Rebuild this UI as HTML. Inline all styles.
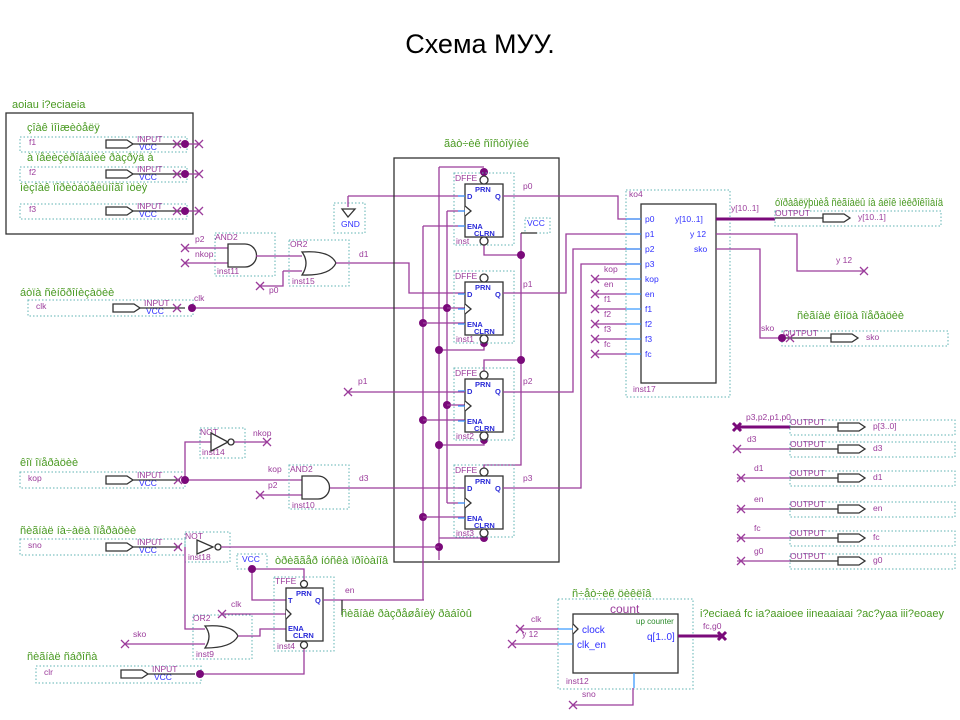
<!DOCTYPE html>
<html><head><meta charset="utf-8"><style>
html,body{margin:0;padding:0;background:#fff;}
svg{display:block;font-family:"Liberation Sans",sans-serif;}
.w{stroke:#9b3c9b;stroke-width:1.3;fill:none}
.b{stroke:#3c9cff;stroke-width:1.3;fill:none}
.k{stroke:#333;stroke-width:1.3;fill:#fff}
.dt{stroke:#5fb3b3;stroke-width:1;stroke-dasharray:1.5,2;fill:none}
.g{fill:#4a9a22;font-size:11px}
.m{fill:#9b3c9b;font-size:8.5px}
.bl{fill:#3030ff;font-size:8.5px}
.pb{fill:#2b2bd8;font-size:7.5px;font-weight:bold}
</style></head><body>
<svg width="960" height="720" viewBox="0 0 960 720">
<defs>
<g id="x"><path d="M-4,-4L4,4M-4,4L4,-4" stroke="#9b3c9b" stroke-width="1.3"/></g>
<circle id="d" r="4" fill="#7a0a7a"/>
<path id="pin" d="M0,-4H21L27,0L21,4H0Z" class="k"/>
<g id="in"><use href="#pin"/><text x="31" y="-2" class="m">INPUT</text><text x="33" y="6" class="bl">VCC</text></g>
<g id="out"><text x="0" y="-2" class="m">OUTPUT</text><use href="#pin" x="48"/></g>
</defs>
<text x="480" y="53" text-anchor="middle" font-size="27" fill="#000">Схема МУУ.</text>

<!-- top-left box -->
<text x="12" y="108" class="g">aoiau i?eciaeia</text>
<rect x="6" y="113" width="187" height="121" fill="none" stroke="#333" stroke-width="1.3"/>
<text x="27" y="131" class="g">çîàê ìîìæèòåëÿ</text>
<text x="27" y="161" class="g">à ïåèèçèðîâàíèé ðàçðÿä à</text>
<text x="20" y="191" class="g">ìèçîàê ïîðèòàòåëüíîãî ìöèÿ</text>
<rect x="20" y="137" width="167" height="15" class="dt"/>
<rect x="20" y="167" width="167" height="15" class="dt"/>
<rect x="20" y="204" width="167" height="15" class="dt"/>
<text x="29" y="145" class="m">f1</text><text x="29" y="175" class="m">f2</text><text x="29" y="212" class="m">f3</text>
<use href="#in" x="106" y="144"/><use href="#in" x="106" y="174"/><use href="#in" x="106" y="211"/>
<path d="M133,144H185M133,174H185M133,211H185" stroke="#333" stroke-width="1.3"/>
<path d="M185,144H199M185,174H199M185,211H199" class="w"/>
<use href="#d" x="185" y="144"/><use href="#d" x="185" y="174"/><use href="#d" x="185" y="211"/>
<use href="#x" x="177" y="144"/><use href="#x" x="199" y="144"/><use href="#x" x="177" y="174"/><use href="#x" x="199" y="174"/><use href="#x" x="177" y="211"/><use href="#x" x="199" y="211"/>

<!-- clk -->
<text x="20" y="296" class="g">áòïà ñèíõðîíèçàöèè</text>
<rect x="28" y="300" width="165" height="16" class="dt"/>
<text x="36" y="309" class="m">clk</text>
<use href="#in" x="113" y="308"/>
<path d="M140,308H185" stroke="#333" stroke-width="1.3"/>
<use href="#x" x="177" y="308"/>
<text x="194" y="301" class="m">clk</text>
<path d="M192,308H447" class="w"/><use href="#d" x="192" y="308"/>

<!-- AND2 inst11 / OR2 inst15 -->
<rect x="215" y="233" width="60" height="43" class="dt"/>
<text x="215" y="240" class="m">AND2</text><text x="217" y="274" class="m">inst11</text>
<path d="M185,248H228M185,263H228" class="w"/>
<use href="#x" x="185" y="248"/><use href="#x" x="185" y="263"/>
<text x="195" y="242" class="m">p2</text><text x="195" y="257" class="m">nkop</text>
<path d="M228,244H245A11.5,11.5 0 0 1 245,267H228Z" class="k"/>
<rect x="289" y="240" width="60" height="46" class="dt"/>
<text x="290" y="247" class="m">OR2</text><text x="292" y="284" class="m">inst15</text>
<path d="M256,256H302M283,271H302M283,271V286H260" class="w"/>
<use href="#x" x="260" y="286"/><text x="269" y="293" class="m">p0</text>
<path d="M302,252Q330,250 336,263Q330,276 302,275Q310,263 302,252Z" class="k"/>
<text x="359" y="257" class="m">d1</text>
<path d="M336,263H409V293H465" class="w"/>

<!-- GND -->
<rect x="334" y="203" width="31" height="30" class="dt"/>
<path d="M348,196V207M348,196H394" class="w"/>
<path d="M342,209H355L348,217Z" class="k"/>
<text x="341" y="227" class="bl">GND</text>
<path d="M394,196H465" class="w"/>

<!-- shift register big box -->
<text x="444" y="147" class="g">ãàò÷èê ñîñòîÿíèé</text>
<rect x="394" y="158" width="165" height="404" fill="none" stroke="#333" stroke-width="1.3"/>
<path d="M439,167V560M423,226V600M447,211V503M521,233V330M439,167H484" class="w"/>
<rect x="525" y="218" width="25" height="15" class="dt"/><text x="527" y="226" class="bl">VCC</text>
<path d="M521,233H537" stroke="#333" stroke-width="1.3"/>
<path d="M484,244V255H521M484,338V350H439M521,360H484V373M484,435V445H439M521,330V360M521,360V465H484V473M484,532V538H439" class="w"/>
<use href="#d" x="484" y="172"/><use href="#d" x="521" y="255"/><use href="#d" x="484" y="343"/><use href="#d" x="439" y="350"/>
<use href="#d" x="521" y="360"/><use href="#d" x="484" y="440"/><use href="#d" x="439" y="445"/><use href="#d" x="484" y="538"/><use href="#d" x="439" y="547"/>
<use href="#d" x="447" y="308"/><use href="#d" x="447" y="405"/><use href="#d" x="423" y="323"/><use href="#d" x="423" y="420"/><use href="#d" x="423" y="517"/>
<path d="M423,226H465M447,211H465M447,308H465M447,405H465M447,503H465M423,323H465M423,420H465M423,517H465" class="w"/>

<!-- DFFs -->
<g id="ff">
<rect x="454" y="173" width="60" height="72" class="dt"/>
<text x="455" y="181" class="m">DFFE</text>
<rect x="465" y="184" width="38" height="53" class="k"/>
<circle cx="484" cy="180" r="4" class="k"/><circle cx="484" cy="241" r="4" class="k"/>
<text x="475" y="192" class="pb">PRN</text><text x="467" y="199" class="pb">D</text><text x="495" y="199" class="pb">Q</text>
<path d="M465,206L471,211L465,216" class="k" fill="none"/>
<text x="467" y="229" class="pb">ENA</text><text x="474" y="236" class="pb">CLRN</text>
<path d="M458,196H465M458,211H465M458,226H465" class="b"/>
</g>
<text x="456" y="244" class="m">inst</text>
<use href="#ff" y="98"/><text x="456" y="342" class="m">inst1</text>
<use href="#ff" y="195"/><text x="456" y="439" class="m">inst2</text>
<use href="#ff" y="292"/><text x="456" y="536" class="m">inst3</text>

<path d="M503,196H618V219H641M503,293H566V234H641M503,392H573V249H641M503,488H581V264H641" class="w"/>
<text x="523" y="189" class="m">p0</text><text x="523" y="287" class="m">p1</text><text x="523" y="384" class="m">p2</text><text x="523" y="481" class="m">p3</text>
<path d="M348,392H465" class="w"/><use href="#x" x="348" y="392"/><text x="358" y="384" class="m">p1</text>

<!-- ko4 -->
<rect x="626" y="190" width="104" height="207" class="dt"/>
<text x="629" y="197" class="m">ko4</text><text x="633" y="392" class="m">inst17</text>
<rect x="641" y="204" width="75" height="179" class="k"/>
<path d="M626,219H641M626,234H641M626,249H641M626,264H641M626,279H641M626,294H641M626,309H641M626,324H641M626,339H641M626,354H641" class="b"/>
<path d="M595,279H626M595,294H626M595,309H626M595,324H626M595,339H626M595,354H626" class="w"/>
<g class="bl"><text x="645" y="222">p0</text><text x="645" y="237">p1</text><text x="645" y="252">p2</text><text x="645" y="267">p3</text><text x="645" y="282">kop</text><text x="645" y="297">en</text><text x="645" y="312">f1</text><text x="645" y="327">f2</text><text x="645" y="342">f3</text><text x="645" y="357">fc</text>
<text x="675" y="222">y[10..1]</text><text x="690" y="237">y 12</text><text x="694" y="252">sko</text></g>
<g class="m"><text x="604" y="272">kop</text><text x="604" y="287">en</text><text x="604" y="302">f1</text><text x="604" y="317">f2</text><text x="604" y="332">f3</text><text x="604" y="347">fc</text></g>
<use href="#x" x="595" y="279"/><use href="#x" x="595" y="294"/><use href="#x" x="595" y="309"/><use href="#x" x="595" y="324"/><use href="#x" x="595" y="339"/><use href="#x" x="595" y="354"/>

<!-- right outputs -->
<text x="775" y="206" class="g" font-size="10" textLength="168" lengthAdjust="spacingAndGlyphs">óïðàâëÿþùèå ñèãíàëû íà áëîê ìèêðîêîìàíä</text>
<path d="M716,219H775" stroke="#7a0a7a" stroke-width="3"/>
<text x="731" y="211" class="m">y[10..1]</text>
<rect x="775" y="211" width="166" height="15" class="dt"/>
<use href="#out" x="775" y="218"/><path d="M775,218H823" stroke="#333" stroke-width="1.3"/>
<text x="858" y="220" class="m">y[10..1]</text>
<path d="M716,234H797V271H864M716,249H760V338H782" class="w"/>
<use href="#x" x="864" y="271"/><text x="836" y="263" class="m">y 12</text>
<text x="797" y="319" class="g">ñèãíàë êîíöà îïåðàöèè</text>
<text x="761" y="331" class="m">sko</text>
<rect x="782" y="331" width="166" height="15" class="dt"/>
<use href="#out" x="783" y="338"/><path d="M782,338H831" stroke="#333" stroke-width="1.3"/>
<use href="#d" x="782" y="338"/><use href="#x" x="790" y="338"/>
<text x="866" y="340" class="m">sko</text>

<path d="M737,427H790" stroke="#7a0a7a" stroke-width="3"/>
<path d="M733,423L741,431M733,431L741,423" stroke="#7a0a7a" stroke-width="3"/>
<text x="746" y="420" class="m">p3,p2,p1,p0</text>
<g id="orow"><rect x="790" y="420" width="165" height="15" class="dt"/><use href="#out" x="790" y="427"/><path d="M790,427H838" stroke="#333" stroke-width="1.3"/></g>
<text x="873" y="429" class="m">p[3..0]</text>
<use href="#orow" y="22"/><use href="#orow" y="51"/><use href="#orow" y="82"/><use href="#orow" y="111"/><use href="#orow" y="134"/>
<path d="M737,449H790M737,478H790M737,509H790M737,538H790M737,561H790" class="w"/>
<use href="#x" x="737" y="449"/><use href="#x" x="741" y="478"/><use href="#x" x="741" y="509"/><use href="#x" x="741" y="538"/><use href="#x" x="741" y="561"/>
<g class="m"><text x="747" y="442">d3</text><text x="754" y="471">d1</text><text x="754" y="502">en</text><text x="754" y="531">fc</text><text x="754" y="554">g0</text>
<text x="873" y="451">d3</text><text x="873" y="480">d1</text><text x="873" y="511">en</text><text x="873" y="540">fc</text><text x="873" y="563">g0</text></g>

<!-- kop -->
<text x="20" y="466" class="g">êîï îïåðàöèè</text>
<rect x="20" y="472" width="165" height="16" class="dt"/>
<text x="28" y="481" class="m">kop</text>
<use href="#in" x="106" y="480"/><path d="M133,480H180" stroke="#333" stroke-width="1.3"/>
<use href="#x" x="178" y="480"/>
<path d="M185,480H302M185,480V442H211M233,442H267" class="w"/><use href="#d" x="185" y="480"/>
<rect x="200" y="428" width="45" height="30" class="dt"/>
<text x="200" y="435" class="m">NOT</text><text x="202" y="455" class="m">inst14</text>
<path d="M211,433L228,442L211,451Z" class="k"/><circle cx="231" cy="442" r="3" class="k"/>
<use href="#x" x="267" y="442"/><text x="253" y="436" class="m">nkop</text>
<rect x="289" y="465" width="60" height="44" class="dt"/>
<text x="290" y="472" class="m">AND2</text><text x="292" y="508" class="m">inst10</text>
<text x="268" y="472" class="m">kop</text><text x="268" y="488" class="m">p2</text>
<path d="M260,495H302" class="w"/><use href="#x" x="260" y="495"/>
<path d="M302,476H318A11.5,11.5 0 0 1 318,499H302Z" class="k"/>
<path d="M330,488H465" class="w"/><text x="359" y="481" class="m">d3</text>

<!-- sno -->
<text x="20" y="534" class="g">ñèãíàë íà÷àëà îïåðàöèè</text>
<rect x="20" y="539" width="165" height="16" class="dt"/>
<text x="28" y="548" class="m">sno</text>
<use href="#in" x="106" y="547"/><path d="M133,547H180" stroke="#333" stroke-width="1.3"/>
<use href="#x" x="178" y="547"/>
<rect x="185" y="532" width="45" height="30" class="dt"/>
<text x="185" y="539" class="m">NOT</text><text x="188" y="560" class="m">inst18</text>
<path d="M197,540L213,547L197,554Z" class="k"/><circle cx="218" cy="547" r="3" class="k"/>
<path d="M221,547H439M185,547V629H205M125,644H205" class="w"/>
<use href="#x" x="125" y="644"/><text x="133" y="637" class="m">sko</text>
<rect x="193" y="615" width="59" height="44" class="dt"/>
<text x="193" y="621" class="m">OR2</text><text x="196" y="657" class="m">inst9</text>
<path d="M205,626Q232,624 238,636Q232,648 205,648Q213,636 205,626Z" class="k"/>
<path d="M238,636H260V629H286M222,614H286" class="w"/>
<use href="#x" x="222" y="614"/><text x="231" y="607" class="m">clk</text>

<!-- TFFE -->
<rect x="237" y="554" width="30" height="15" class="dt"/><text x="242" y="562" class="bl">VCC</text>
<text x="275" y="564" class="g">òðèããåð íóñêà ïðîòàíîâ</text>
<path d="M252,569H304V580M252,569V600H286" class="w"/><use href="#d" x="252" y="569"/>
<rect x="274" y="577" width="60" height="74" class="dt"/>
<text x="275" y="584" class="m">TFFE</text><text x="277" y="649" class="m">inst4</text>
<rect x="286" y="588" width="37" height="53" class="k"/>
<circle cx="304" cy="584" r="3.5" class="k"/><circle cx="304" cy="645" r="3.5" class="k"/>
<text x="296" y="596" class="pb">PRN</text><text x="288" y="603" class="pb">T</text><text x="315" y="603" class="pb">Q</text>
<path d="M286,609L291,614L286,619" class="k" fill="none"/>
<text x="288" y="631" class="pb">ENA</text><text x="293" y="638" class="pb">CLRN</text>
<path d="M323,600H424" class="w"/>
<text x="345" y="593" class="m">en</text>
<path d="M342,600V615" stroke="#333" stroke-width="1.3"/>
<text x="341" y="617" class="g">ñèãíàë ðàçðåøåíèÿ ðàáîòû</text>

<!-- clr -->
<text x="27" y="660" class="g">ñèãíàë ñáðîñà</text>
<rect x="36" y="666" width="165" height="17" class="dt"/>
<text x="44" y="675" class="m">clr</text>
<use href="#in" x="121" y="674"/><path d="M148,674H195" stroke="#333" stroke-width="1.3"/>
<path d="M200,674H304V649" class="w"/><use href="#d" x="200" y="674"/>

<!-- counter -->
<text x="572" y="597" class="g">ñ÷åò÷èê öèêëîâ</text>
<rect x="558" y="599" width="135" height="90" class="dt"/>
<text x="610" y="613" font-size="12" fill="#9b3c9b">count</text>
<rect x="573" y="614" width="105" height="59" class="k"/>
<text x="636" y="624" font-size="8" fill="#2b8a2b">up counter</text>
<path d="M573,624L578,629L573,634" class="k" fill="none"/>
<text x="582" y="633" font-size="10" fill="#3030ff">clock</text>
<text x="577" y="648" font-size="10" fill="#3030ff">clk_en</text>
<text x="647" y="640" font-size="10" fill="#3030ff">q[1..0]</text>
<path d="M558,629H573M558,644H573M634,673V688" class="b"/>
<path d="M520,629H558M512,644H558M573,705H633V688" class="w"/>
<use href="#x" x="520" y="629"/><use href="#x" x="512" y="644"/><use href="#x" x="573" y="705"/>
<text x="531" y="622" class="m">clk</text><text x="522" y="637" class="m">y 12</text><text x="582" y="697" class="m">sno</text>
<text x="566" y="684" class="m">inst12</text>
<path d="M678,636H722" stroke="#7a0a7a" stroke-width="3"/>
<path d="M718,632L726,640M718,640L726,632" stroke="#7a0a7a" stroke-width="3"/>
<text x="703" y="629" class="m">fc,g0</text>
<text x="700" y="617" class="g">i?eciaeá fc ia?aaioee iineaaiaai ?ac?yaa iii?eoaey</text>
</svg>
</body></html>
